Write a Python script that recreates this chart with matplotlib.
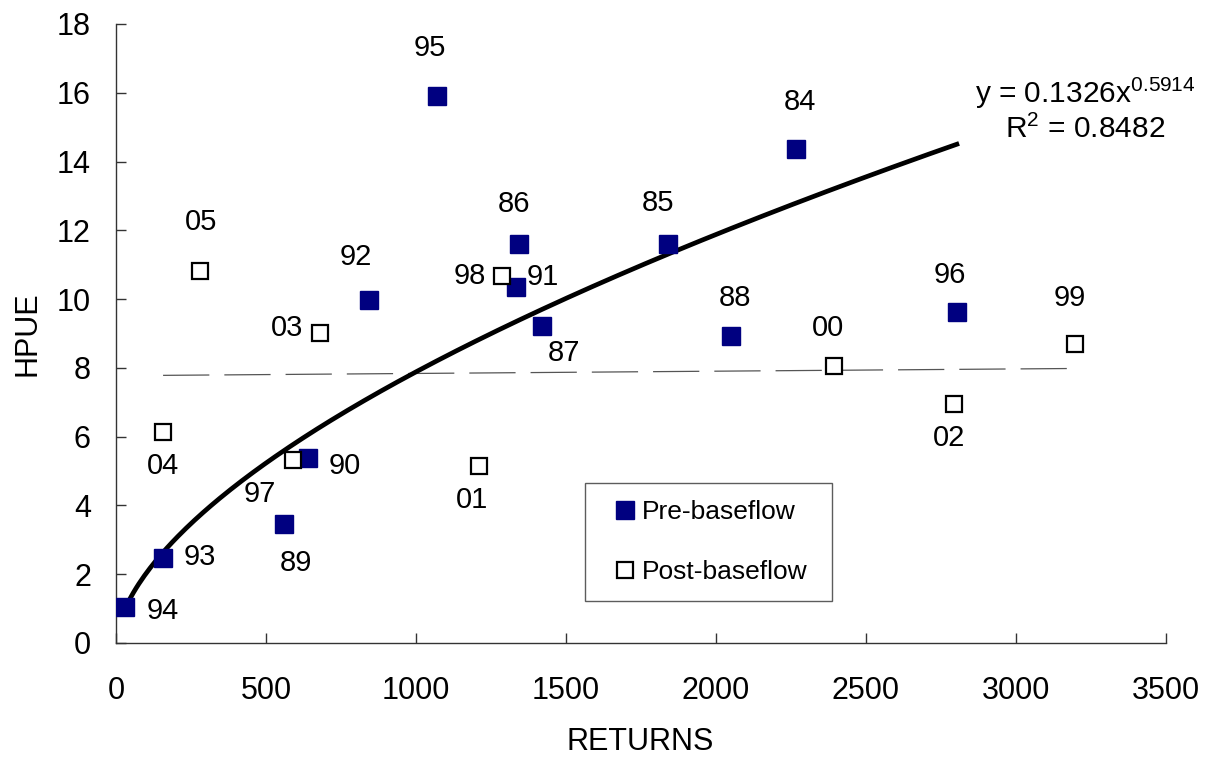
import numpy as np
import matplotlib
matplotlib.use('Agg')
import matplotlib.pyplot as plt

plt.rcParams['font.family'] = ['Liberation Sans', 'DejaVu Sans']
plt.rcParams['mathtext.fontset'] = 'custom'
plt.rcParams['mathtext.rm'] = 'Liberation Sans'
plt.rcParams['mathtext.default'] = 'regular'

# pre-baseflow years (filled)
pre_years = ['94', '93', '89', '90', '92', '95', '86', '91', '87', '85', '88', '84', '96']
pre_returns = [30, 157, 560, 640, 843, 1070, 1343, 1333, 1420, 1840, 2050, 2267, 2803]
pre_hpue = [1.06, 2.46, 3.45, 5.38, 9.97, 15.92, 11.6, 10.35, 9.22, 11.6, 8.92, 14.36, 9.62]

# post-baseflow years (open)
post_years = ['05', '03', '98', '04', '97', '01', '00', '02', '99']
post_returns = [280, 680, 1287, 157, 590, 1210, 2393, 2793, 3197]
post_hpue = [10.81, 9.0, 10.67, 6.15, 5.32, 5.14, 8.05, 6.95, 8.69]

# power fit shown on chart
fit_a = 0.1326
fit_b = 0.5914
fit_r2 = 0.8482

# label offsets in pixels (dx, dy), y up
pre_offsets = {'94': (38, -4), '93': (37, 1), '89': (12, -39), '90': (37, -8),
               '92': (-13, 43), '95': (-7, 48), '86': (-5, 40), '91': (27, 10),
               '87': (22, -27), '85': (-10, 41), '88': (4, 38), '84': (4, 47),
               '96': (-7, 37)}
post_offsets = {'05': (1, 49), '03': (-33, 5), '98': (-32, 0), '04': (0, -34),
                '97': (-33, -34), '01': (-7, -34), '00': (-6, 38), '02': (-5, -34),
                '99': (-5, 46)}

fig = plt.figure(figsize=(12.12, 7.57), dpi=100)
ax = fig.add_axes([0.0957, 0.1506, 0.8663, 0.8177])

navy = '#000080'
ax.plot(pre_returns, pre_hpue, 's', color=navy, markersize=13, label='Pre-baseflow', zorder=4)
ax.plot(post_returns, post_hpue, 's', markerfacecolor='white', markeredgecolor='black',
        markeredgewidth=1.6, markersize=11, label='Post-baseflow', zorder=4)

# power trend line over pre-baseflow
xs = np.linspace(min(pre_returns), max(pre_returns), 300)
ax.plot(xs, fit_a * xs ** fit_b, color='black', linewidth=3.4, zorder=3)

# linear trend for post-baseflow
m, c = np.polyfit(post_returns, post_hpue, 1)
xl = np.array([min(post_returns), max(post_returns)])
ax.plot(xl, m * xl + c, color='#555555', linewidth=0.9, dashes=(37, 12), zorder=2)

for yr, x, y in zip(pre_years, pre_returns, pre_hpue):
    ax.annotate(yr, (x, y), xytext=pre_offsets[yr], textcoords='offset pixels',
                ha='center', va='center', fontsize=21)
for yr, x, y in zip(post_years, post_returns, post_hpue):
    ax.annotate(yr, (x, y), xytext=post_offsets[yr], textcoords='offset pixels',
                ha='center', va='center', fontsize=21)

ax.text(0.923, 0.872, r'y = 0.1326x$^{%s}$' % fit_b, transform=ax.transAxes,
        ha='center', va='baseline', fontsize=21.5)
ax.text(0.923, 0.816, r'R$^{2}$ = %s' % fit_r2, transform=ax.transAxes,
        ha='center', va='baseline', fontsize=21.5)

ax.set_xlim(0, 3500)
ax.set_ylim(0, 18)
ax.set_xticks(np.arange(0, 3501, 500))
ax.set_yticks(np.arange(0, 19, 2))
for s in ['top', 'right']:
    ax.spines[s].set_visible(False)
for s in ['left', 'bottom']:
    ax.spines[s].set_color('#333333')
    ax.spines[s].set_linewidth(1.0)
ax.tick_params(axis='both', direction='in', length=7, width=1, color='#333333', labelsize=22)
ax.tick_params(axis='y', pad=18)
ax.tick_params(axis='x', pad=24)

ax.set_xlabel('RETURNS', fontsize=22)
ax.set_ylabel('HPUE', fontsize=22)
ax.xaxis.set_label_coords(0.499, -0.135)
ax.yaxis.set_label_coords(-0.070, 0.5)

leg = ax.legend(loc='upper left', bbox_to_anchor=(0.447, 0.068, 0.235, 0.19), mode='expand',
                borderaxespad=0.0, fontsize=19, frameon=True, fancybox=False,
                borderpad=0.65, labelspacing=1.35, handlelength=1.7, handletextpad=-0.2,
                markerscale=1.05)
leg.get_frame().set_edgecolor('#333333')
leg.get_frame().set_linewidth(1.0)

fig.savefig('out.png', dpi=100)
